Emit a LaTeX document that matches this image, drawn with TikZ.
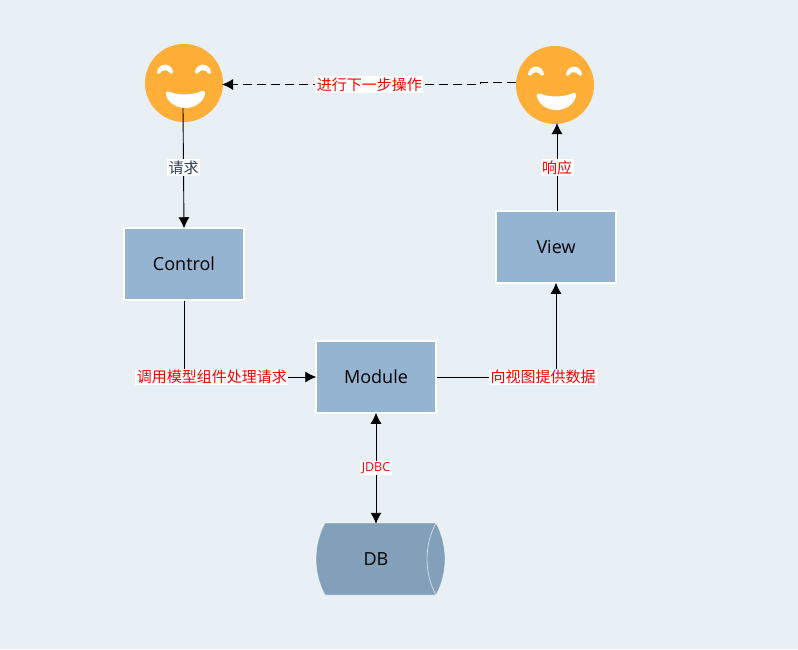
\documentclass[tikz,border=0pt]{standalone}
\usepackage{fontspec}
\setmainfont{Open Sans}
\newfontfamily\cjk{Noto Sans CJK SC}
\usetikzlibrary{arrows.meta}
\definecolor{bgcol}{HTML}{E8EFF5}
\definecolor{boxcol}{HTML}{94B4D1}
\definecolor{dbcol}{HTML}{83A0BA}
\definecolor{facecol}{HTML}{FFAF38}
\definecolor{asktext}{HTML}{2F4050}
\tikzset{
  box/.style={draw=white, line width=1.5, fill=boxcol, minimum width=120, minimum height=72, inner sep=0, font=\fontsize{18}{21}\selectfont},
  facenode/.style={circle, fill=facecol, minimum size=78, inner sep=0},
  tag/.style={fill=white, inner sep=1.5, text=red, font=\fontsize{15}{18}\selectfont\cjk},
  link/.style={draw=black, line width=0.9, >={Latex[length=11,width=11]}, shorten >=-1},
  pics/smiley/.style={code={
    \fill[white] (-27,-10.5) .. controls (-26,-21) and (-12,-21) .. (-11,-10.5) .. controls (-12,-8.5) and (-13.5,-9) .. (-14.5,-10.5) .. controls (-16,-13.5) and (-22,-13.5) .. (-23.5,-10.5) .. controls (-24.5,-9) and (-26,-8.5) .. cycle;
    \fill[white] (11,-10.5) .. controls (12,-21) and (26,-21) .. (27,-10.5) .. controls (26,-8.5) and (24.5,-9) .. (23.5,-10.5) .. controls (22,-13.5) and (16,-13.5) .. (14.5,-10.5) .. controls (13.5,-9) and (12,-8.5) .. cycle;
    \fill[white] (-15,8.5) .. controls (-6,12.5) and (9,12.5) .. (18,8) .. controls (20,7) and (21.5,8.5) .. (21,11) .. controls (19,20) and (10,25) .. (1.5,25) .. controls (-7,25) and (-16,20) .. (-18,12) .. controls (-18.5,9) and (-17,7.5) .. cycle;
  }},
}
\begin{document}
\begin{tikzpicture}[x=1pt, y=-1pt]
  \fill[bgcol] (0,0) rectangle (798,649);
  \useasboundingbox (0,0) rectangle (798,649);

  % the two users
  \node[facenode] (U1) at (184,83) {};
  \node[facenode] (U2) at (555,85) {};
  \pic at (U1) {smiley};
  \pic at (U2) {smiley};

  \node[box] (C) at (184,264) {Control};
  \node[box] (V) at (556,247) {View};
  \node[box] (M) at (376,377) {Module};

  % database, drawn by hand
  \fill[dbcol] (325,523) -- (436,523) .. controls (448,545) and (448,573) .. (436,595) -- (325,595) .. controls (313,573) and (313,545) .. cycle;
  \draw[white, opacity=.5, line width=.8] (325,523) -- (436,523) .. controls (448,545) and (448,573) .. (436,595) -- (325,595) .. controls (313,573) and (313,545) .. cycle;
  \draw[white, opacity=.6, line width=.8] (436,523) .. controls (424,545) and (424,573) .. (436,595);
  \node[minimum width=120, minimum height=72, inner sep=0, font=\fontsize{18}{21}\selectfont] (DB) at (376,559) {DB};

  \coordinate (U1b) at (183,108);
  \coordinate (U1e) at (223,84.5);
  \coordinate (U2b) at (557,124);
  \coordinate (U2w) at (516,82.5);
  \coordinate (Vt) at (557,211);
  \coordinate (J1) at (480,82.5);
  \coordinate (J2) at (480,84.5);

  \draw[link,->] (U1b) to node[tag, text=asktext] {请求} (C.north);
  \draw[link,->] (C.south) |- node[tag, pos=.606] {调用模型组件处理请求} (M.west);
  \draw[link,->] (M.east) -| node[tag, pos=.446] {向视图提供数据} (V.south);
  \draw[link,->] (Vt) to node[tag] {响应} (U2b);
  \draw[link,<->,shorten <=-1] (M.south) to node[tag, font=\fontsize{12.5}{15}\selectfont] {JDBC} (DB.north);
  \draw[link,dash pattern=on 9 off 5,->] (U2w) -- (J1) -- (J2) -- node[tag, pos=.43] {进行下一步操作} (U1e);
\end{tikzpicture}
\end{document}
